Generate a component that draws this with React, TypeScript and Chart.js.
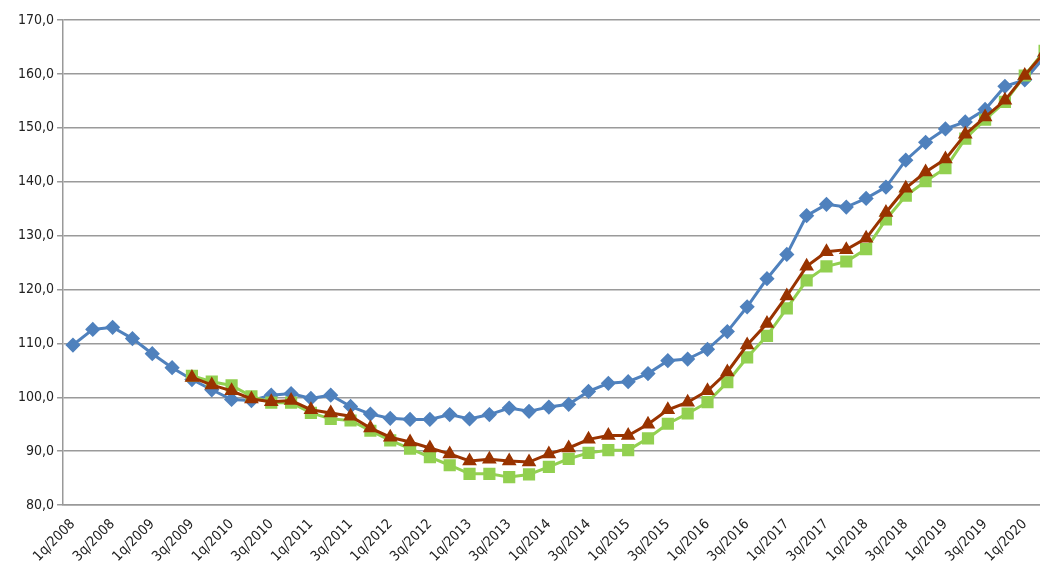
import React, { useEffect, useRef } from "react";
import { Chart, registerables } from "chart.js";
Chart.register(...registerables);

const years = [2008,2009,2010,2011,2012,2013,2014,2015,2016,2017,2018,2019,2020];
const categories: string[] = [];
years.forEach((y) => [1, 2, 3, 4].forEach((q) => categories.push(`${q}q/${y}`)));
const cats = categories.slice(0, 50);

const blue = [109.7,112.6,113.0,110.9,108.1,105.5,103.3,101.4,99.6,99.4,100.4,100.7,99.8,100.4,98.3,96.9,96.1,95.9,95.9,96.8,96.0,96.8,98.0,97.4,98.2,98.7,101.1,102.6,102.9,104.4,106.8,107.1,108.9,112.2,116.8,122.0,126.5,133.7,135.8,135.3,136.9,139.0,144.0,147.3,149.8,151.1,153.4,157.7,158.9,163.2];
const red = [null,null,null,null,null,null,103.7,102.3,101.2,99.7,99.2,99.4,97.7,97.1,96.5,94.3,92.6,91.7,90.6,89.5,88.2,88.5,88.2,88.0,89.5,90.6,92.2,92.9,92.9,95.0,97.7,99.1,101.2,104.7,109.7,113.7,118.8,124.3,127.0,127.4,129.5,134.3,138.8,141.8,144.2,148.8,152.0,155.1,159.7,164.0];
const green = [null,null,null,null,null,null,104.0,102.9,102.2,100.2,99.0,99.0,97.1,96.0,95.7,93.8,92.0,90.5,88.9,87.4,85.8,85.8,85.2,85.7,87.1,88.6,89.7,90.2,90.2,92.4,95.1,97.0,99.1,102.8,107.4,111.4,116.5,121.7,124.3,125.2,127.5,133.0,137.4,140.1,142.5,148.0,151.5,154.8,159.7,164.3];

export default function App() {
  const ref = useRef<HTMLCanvasElement>(null);
  useEffect(() => {
    document.body.style.margin = "0";
    document.body.style.overflow = "hidden";
    const font = { family: "'Liberation Sans Narrow', 'DejaVu Sans Condensed', 'Liberation Sans', sans-serif", size: 14 };
    const chart = new Chart(ref.current!, {
      type: "line",
      data: {
        labels: cats,
        datasets: [
          { label: "red", data: red, borderColor: "#993300", backgroundColor: "#993300", borderWidth: 3, pointStyle: "triangle", pointRadius: 5.5, order: 0 },
          { label: "green", data: green, borderColor: "#92D050", backgroundColor: "#92D050", borderWidth: 3, pointStyle: "rect", pointRadius: 6.5, order: 1 },
          { label: "blue", data: blue, borderColor: "#4F81BD", backgroundColor: "#4F81BD", borderWidth: 3, pointStyle: "rectRot", pointRadius: 5.5, order: 2 },
        ],
      },
      options: {
        animation: false,
        responsive: false,
        layout: { padding: { top: 20, left: 15, right: 0, bottom: 0 } },
        plugins: { legend: { display: false }, tooltip: { enabled: false } },
        scales: {
          x: {
            offset: true,
            grid: { display: false },
            border: { color: "#999", width: 1.5 },
            ticks: {
              autoSkip: false,
              maxRotation: 45,
              minRotation: 45,
              color: "#222",
              font,
              callback: (v: any, i: number) => (i % 2 === 0 ? cats[i] : ""),
            },
          },
          y: {
            min: 80,
            max: 170,
            grid: { color: "#9a9a9a", lineWidth: 1.5, tickLength: 6 },
            border: { color: "#999", width: 1.5 },
            ticks: { stepSize: 10, color: "#222", font, callback: (v: any) => Number(v).toFixed(1).replace(".", ",") },
          },
        },
      },
    });
    return () => chart.destroy();
  }, []);
  return (
    <div style={{ position: "absolute", left: 0, top: 0, width: 1040, height: 568, overflow: "hidden", background: "#fff" }}>
      <canvas ref={ref} width={1064} height={568} style={{ display: "block" }} />
    </div>
  );
}
